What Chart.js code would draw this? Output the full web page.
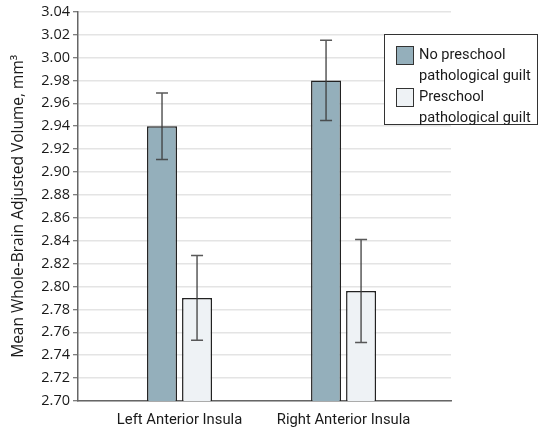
<!DOCTYPE html>
<html>
<head>
<meta charset="utf-8">
<script src="https://cdn.jsdelivr.net/npm/chart.js@4.4.0/dist/chart.umd.min.js"></script>
<style>
  html, body { margin: 0; padding: 0; background: #fff; }
  #wrap { width: 540px; height: 427px; }
</style>
</head>
<body>
<div id="wrap"><canvas id="volChart" width="540" height="427"></canvas></div>
<script>
// Category labels and their positions on the x axis
const categories = ["Left Anterior Insula", "Right Anterior Insula"];
const categoryX = [1, 2];

// Mean volumes and 95% CI bounds
const noGuiltMean = [2.94, 2.98];
const noGuiltUpper = [2.969, 3.015];
const noGuiltLower = [2.911, 2.945];
const guiltMean = [2.79, 2.796];
const guiltUpper = [2.827, 2.841];
const guiltLower = [2.753, 2.751];

const seriesNames = [["No preschool", "pathological guilt"], ["Preschool", "pathological guilt"]];
const yTicks = [2.70, 2.72, 2.74, 2.76, 2.78, 2.80, 2.82, 2.84, 2.86, 2.88, 2.90, 2.92, 2.94, 2.96, 2.98, 3.00, 3.02, 3.04];

const fillColors = ["#94afbb", "#eef2f5"];
const tickFont = { family: "'Open Sans', sans-serif", size: 14.5 };
const titleFont = { family: "'Open Sans', sans-serif", size: 15.5 };
const labelFont = { family: "Roboto, sans-serif", size: 14.8 };

// Draws the CI whiskers on top of each bar
const errorBars = {
    id: "errorBars",
    afterDatasetsDraw(chart) {
        const ctx = chart.ctx;
        const y = chart.scales.y;
        ctx.save();
        ctx.strokeStyle = "rgba(60,60,60,0.85)";
        ctx.lineWidth = 1.5;
        chart.data.datasets.forEach((ds, di) => {
            const meta = chart.getDatasetMeta(di);
            meta.data.forEach((bar, i) => {
                const top = y.getPixelForValue(ds.upper[i]);
                const bot = y.getPixelForValue(ds.lower[i]);
                const cap = 6;
                ctx.beginPath();
                ctx.moveTo(bar.x, top);
                ctx.lineTo(bar.x, bot);
                ctx.moveTo(bar.x - cap, top);
                ctx.lineTo(bar.x + cap, top);
                ctx.moveTo(bar.x - cap, bot);
                ctx.lineTo(bar.x + cap, bot);
                ctx.stroke();
            });
        });
        ctx.restore();
    }
};

// Boxed legend with two-line labels in the upper right
const boxLegend = {
    id: "boxLegend",
    afterDraw(chart) {
        const ctx = chart.ctx;
        const bx = 384, by = 34, bw = 153, bh = 90;
        ctx.save();
        ctx.fillStyle = "#fff";
        ctx.fillRect(bx, by, bw, bh);
        ctx.strokeStyle = "#333";
        ctx.lineWidth = 1;
        ctx.strokeRect(bx + 0.5, by + 0.5, bw, bh);
        ctx.font = "14.6px Roboto, sans-serif";
        ctx.textBaseline = "middle";
        chart.data.datasets.forEach((ds, di) => {
            const sy = by + 12 + di * 42;
            ctx.fillStyle = ds.backgroundColor;
            ctx.fillRect(bx + 12, sy, 17, 18);
            ctx.strokeStyle = "#333";
            ctx.strokeRect(bx + 12.5, sy + 0.5, 17, 18);
            ctx.fillStyle = "#1a1a1a";
            seriesNames[di].forEach((line, li) => {
                ctx.fillText(line, bx + 35, sy + 9 + li * 21);
            });
        });
        ctx.restore();
    }
};

const ctx = document.getElementById("volChart").getContext("2d");

new Chart(ctx, {
    type: "bar",
    data: {
        datasets: [
            {
                label: seriesNames[0].join(" "),
                data: categoryX.map((x, i) => ({ x: x, y: noGuiltMean[i] })),
                upper: noGuiltUpper,
                lower: noGuiltLower,
                backgroundColor: fillColors[0],
                borderColor: "#222",
                borderWidth: 1.5,
                borderSkipped: false,
            },
            {
                label: seriesNames[1].join(" "),
                data: categoryX.map((x, i) => ({ x: x, y: guiltMean[i] })),
                upper: guiltUpper,
                lower: guiltLower,
                backgroundColor: fillColors[1],
                borderColor: "#222",
                borderWidth: 1.5,
                borderSkipped: false,
            },
        ],
    },
    options: {
        responsive: false,
        animation: false,
        categoryPercentage: 0.427,
        barPercentage: 0.857,
        layout: {
            padding: { top: 8, left: 0, right: 89, bottom: 0 },
        },
        plugins: {
            legend: { display: false },
            tooltip: { enabled: false },
        },
        scales: {
            x: {
                type: "linear",
                min: 0.381,
                max: 2.655,
                offset: false,
                bounds: "data",
                grace: 0,
                afterBuildTicks(scale) {
                    scale.ticks = categoryX.map(v => ({ value: v }));
                },
                afterFit(scale) {
                    scale.height = 26;
                },
                ticks: {
                    color: "#1a1a1a",
                    font: labelFont,
                    padding: 2,
                    autoSkip: false,
                    maxRotation: 0,
                    callback: function(value) {
                        return categories[categoryX.indexOf(value)];
                    },
                },
                grid: { display: false },
                border: { color: "#666", width: 1.5 },
            },
            y: {
                min: 2.70,
                max: 3.04,
                afterBuildTicks(scale) {
                    scale.ticks = yTicks.map(v => ({ value: v }));
                },
                afterFit(scale) {
                    scale.width = 78;
                },
                ticks: {
                    color: "#1a1a1a",
                    font: tickFont,
                    padding: 3,
                    callback: function(value) {
                        return value.toFixed(2);
                    },
                },
                grid: {
                    color: "#e4e4e4",
                    lineWidth: 1.5,
                    tickLength: 5,
                    tickColor: "#555",
                    tickWidth: 1,
                },
                border: { color: "#666", width: 1.5 },
                title: {
                    display: true,
                    text: "Mean Whole-Brain Adjusted Volume, mm³",
                    color: "#1a1a1a",
                    font: titleFont,
                    padding: { top: 9, bottom: 0 },
                },
            },
        },
    },
    plugins: [errorBars, boxLegend],
});
</script>
</body>
</html>
